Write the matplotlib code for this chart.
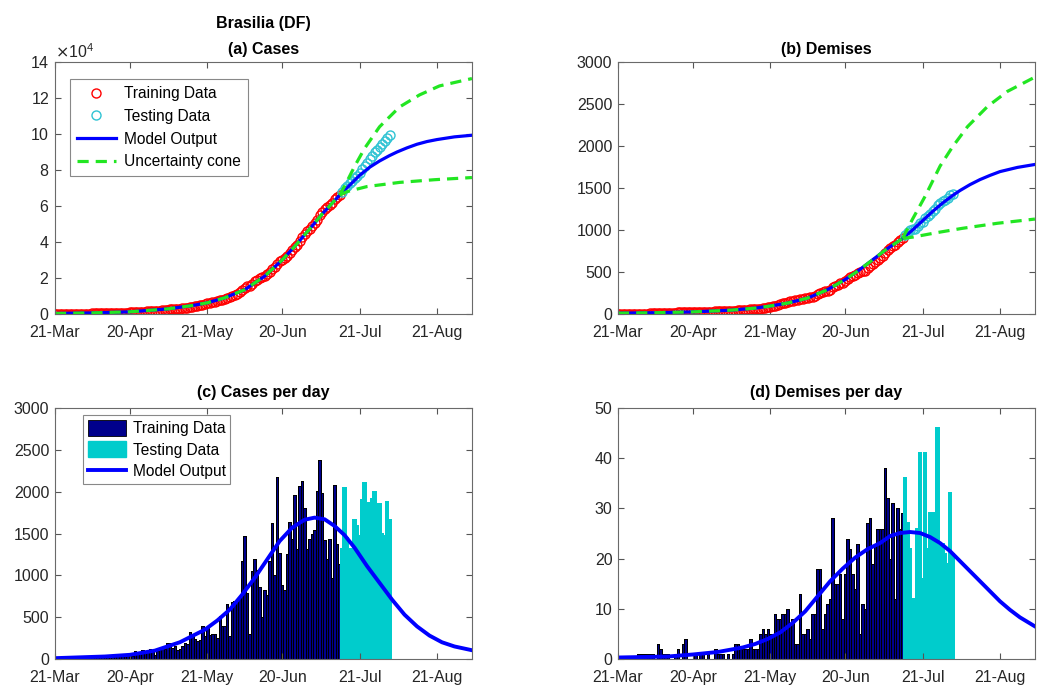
import numpy as np
import matplotlib
matplotlib.use('Agg')
import matplotlib.pyplot as plt
import matplotlib.dates as mdates
from matplotlib.patches import Patch
from matplotlib.lines import Line2D

plt.rcParams['font.family'] = ['Liberation Sans', 'DejaVu Sans']

# --- data (day 0 = 21-Mar-2020) ---
inicio = np.datetime64('2020-03-21')
fim = np.datetime64('2020-09-04')
marcas_x = ['2020-03-21', '2020-04-20', '2020-05-21', '2020-06-20', '2020-07-21', '2020-08-21']

casos_treino = [0, 0, 10, 20, 15, 25, 10, 30, 20, 15, 35, 20, 25, 15, 30, 20, 25, 30, 20, 35,
                25, 30, 40, 35, 30, 45, 40, 50, 35, 60,
                60, 40, 90, 80, 60, 110, 100, 90, 120, 80, 50, 90, 110, 130,
                120, 190, 190, 130, 150, 110, 120, 150, 190, 180, 320, 300, 240, 210, 230, 390,
                270, 370, 290, 300, 300, 250, 520, 400, 390, 660, 270, 680, 690, 720, 740,
                1170, 1470, 790, 300, 1050, 1200, 1060, 860, 500, 820,
                760, 1170, 1620, 1000, 2170, 1270, 880, 830, 1250, 1640,
                1430, 1960, 1320, 2070, 2130, 1810, 1320, 1430, 1500, 1540,
                2010, 2380, 1980, 1420, 1200, 1430, 970, 2080, 1380, 1130]
casos_teste = [1320, 2050, 1450, 1310, 1160, 1660, 1590, 1470, 1900, 2100,
               1650, 1860, 1910, 2000, 1380, 1850, 1500, 1470, 1880, 1660]

obitos_treino = [0, 0, 0, 0, 0, 0, 0, 0, 1, 1, 1, 1, 1, 1, 1,
                 0, 3, 2, 1, 1, 1, 0, 0, 1, 2, 0, 3, 4, 0, 0,
                 0, 1, 0, 1, 1, 0, 1, 0, 0, 2,
                 1, 1, 1, 0, 1, 0, 1, 3, 3, 2, 2, 2, 2, 4, 2,
                 2, 2, 5, 6, 5, 6, 5, 5, 9, 8, 8, 9, 9, 10, 7, 8, 3, 3,
                 13, 5, 5, 6, 4, 9, 9, 18, 18, 6, 9, 11, 12, 28,
                 15, 15, 17, 8, 17, 24, 22, 17, 14, 23, 5, 11, 10, 27, 28, 19, 23, 26, 26, 26, 38,
                 32, 20, 31, 12, 30, 26, 29]
obitos_teste = [36, 27, 22, 12, 10, 26, 41, 16, 41, 22, 29, 29, 27, 46, 23, 23, 21, 19, 33, 21]

# model output (cumulative)
dias_modelo = [0, 15, 30, 45, 55, 61, 68, 76, 84, 91, 96, 100, 104, 107, 111, 114,
               118, 122, 126, 130, 134, 137, 141, 145, 149, 153, 160, 167]
casos_modelo = [300, 600, 1200, 2800, 4700, 6200, 9000, 13500, 21000, 30000, 37500, 44000,
                50500, 55500, 61500, 66000, 71500, 77000, 81500, 85000, 88000, 90000,
                92300, 94300, 95800, 96900, 98400, 99300]
obitos_modelo = [10, 15, 25, 45, 70, 95, 130, 190, 290, 410, 510, 600, 690, 760, 840, 900,
                 1000, 1110, 1220, 1320, 1410, 1470, 1540, 1600, 1650, 1695, 1745, 1780]

# uncertainty cone
dias_sup_casos = [114, 116, 120, 124, 130, 138, 146, 154, 167]
sup_casos = [66000, 71000, 82000, 92000, 104000, 115000, 121700, 126700, 130800]
dias_inf_casos = [114, 117, 125, 138, 152, 167]
inf_casos = [66000, 68000, 70800, 73100, 74600, 75800]
dias_sup_obitos = [114, 118, 123, 129, 134, 140, 148, 156, 167]
sup_obitos = [900, 1130, 1400, 1760, 1990, 2230, 2470, 2650, 2820]
dias_inf_obitos = [114, 118, 128, 138, 152, 167]
inf_obitos = [900, 915, 970, 1020, 1080, 1130]

# model output (per day)
dias_diario_casos = [0, 10, 20, 30, 40, 50, 60, 65, 70, 75, 80, 85, 90, 95, 100, 104, 108,
                     112, 116, 120, 125, 130, 135, 140, 145, 150, 155, 160, 167]
diario_casos = [10, 20, 30, 50, 100, 200, 350, 460, 590, 770, 970, 1190, 1410, 1570, 1665,
                1690, 1670, 1590, 1480, 1330, 1110, 910, 710, 530, 390, 280, 200, 150, 105]
dias_diario_obitos = [0, 10, 20, 30, 40, 50, 55, 60, 65, 70, 75, 80, 85, 90, 95, 100, 105,
                      109, 113, 117, 121, 125, 129, 133, 137, 141, 145, 149, 153, 157, 161, 167]
diario_obitos = [0.3, 0.4, 0.5, 0.9, 1.4, 2.3, 3.0, 4.0, 5.3, 7.2, 9.5, 12.5, 15.5, 18.0,
                 20.2, 21.9, 23.1, 24.5, 25.1, 25.3, 25.1, 24.3, 23.1, 21.5, 19.5, 17.5,
                 15.5, 13.5, 11.5, 9.8, 8.3, 6.5]

AZUL = '#0000ff'
VERDE = '#22e622'
CIANO_PONTO = '#2fc3d3'
CIANO_BARRA = '#00cccc'
MARINHO = '#00008c'
CINZA = '#262626'


def para_datas(dias):
    return inicio + np.asarray(dias).astype('timedelta64[D]')


def estilo_eixo(ax, yticks):
    ax.set_xlim(inicio, fim)
    ax.set_xticks([np.datetime64(d) for d in marcas_x])
    ax.xaxis.set_major_formatter(mdates.DateFormatter('%d-%b'))
    ax.set_yticks(yticks)
    ax.set_ylim(yticks[0], yticks[-1])
    ax.tick_params(direction='in', top=True, right=True, length=4, width=0.8,
                   color='#555555', labelcolor=CINZA, labelsize=11.5, pad=4)
    ax.tick_params(axis='x', pad=8)
    for s in ax.spines.values():
        s.set_color('#6a6a6a')
        s.set_linewidth(0.8)


def painel_acumulado(ax, treino, teste, dias_m, modelo, ds, sup, di, inf, yticks):
    n = len(treino)
    acumulado = np.cumsum(treino + teste)
    d_treino = para_datas(np.arange(n))
    d_teste = para_datas(np.arange(n, n + len(teste)))
    ax.plot(d_treino, acumulado[:n], 'o', mfc='none', mec='r', ms=6.5, mew=1.0)
    ax.plot(d_teste, acumulado[n:], 'o', mfc='none', mec=CIANO_PONTO, ms=6.5, mew=1.0)
    ax.plot(para_datas(dias_m), modelo, color=AZUL, lw=2.3)
    dm = np.array(dias_m)
    mm = np.array(modelo)
    ax.plot(para_datas(dm[dm <= n - 1]), mm[dm <= n - 1], color=VERDE, lw=2.3, dashes=(3.5, 2.2))
    ax.plot(para_datas(ds), sup, color=VERDE, lw=2.3, dashes=(3.5, 2.2))
    ax.plot(para_datas(di), inf, color=VERDE, lw=2.3, dashes=(3.5, 2.2))
    estilo_eixo(ax, yticks)


def painel_diario(ax, treino, teste, dias_m, modelo, yticks):
    n = len(treino)
    ax.bar(para_datas(np.arange(n)), treino, width=1.0, color=MARINHO, edgecolor='black',
           lw=0.5, antialiased=False)
    ax.bar(para_datas(np.arange(n, n + len(teste))), teste, width=1.0, color=CIANO_BARRA,
           edgecolor=CIANO_BARRA, lw=0.3, antialiased=False)
    ax.plot(para_datas(dias_m), modelo, color=AZUL, lw=2.8)
    estilo_eixo(ax, yticks)


def main():
    fig = plt.figure(figsize=(10.37, 6.91), dpi=100)
    ax_a = fig.add_axes([0.0530, 0.5456, 0.4021, 0.3647])
    ax_b = fig.add_axes([0.5959, 0.5456, 0.4021, 0.3647])
    ax_c = fig.add_axes([0.0530, 0.0463, 0.4021, 0.3632])
    ax_d = fig.add_axes([0.5959, 0.0463, 0.4021, 0.3632])

    painel_acumulado(ax_a, casos_treino, casos_teste, dias_modelo, casos_modelo,
                     dias_sup_casos, sup_casos, dias_inf_casos, inf_casos,
                     np.arange(0, 140001, 20000))
    ax_a.ticklabel_format(axis='y', style='sci', scilimits=(4, 4), useMathText=True)
    ax_a.yaxis.get_offset_text().set_fontsize(11.5)
    ax_a.yaxis.get_offset_text().set_color(CINZA)
    ax_a.set_title('Brasilia (DF)\n(a) Cases', fontweight='bold', fontsize=11.5,
                   linespacing=1.9, pad=6)
    alcas = [Line2D([], [], ls='none', marker='o', mfc='none', mec='r', ms=6.5),
             Line2D([], [], ls='none', marker='o', mfc='none', mec=CIANO_PONTO, ms=6.5),
             Line2D([], [], color=AZUL, lw=2.3),
             Line2D([], [], color=VERDE, lw=2.3, dashes=(3.5, 2.2))]
    leg = ax_a.legend(alcas, ['Training Data', 'Testing Data', 'Model Output', 'Uncertainty cone'],
                      loc='upper left', bbox_to_anchor=(0.036, 0.9325), borderaxespad=0,
                      fontsize=11.2, frameon=True, fancybox=False, handlelength=2.5,
                      labelspacing=0.5, borderpad=0.45, handletextpad=0.5)
    leg.get_frame().set_edgecolor('#6a6a6a')
    leg.get_frame().set_linewidth(0.8)

    painel_acumulado(ax_b, obitos_treino, obitos_teste, dias_modelo, obitos_modelo,
                     dias_sup_obitos, sup_obitos, dias_inf_obitos, inf_obitos,
                     np.arange(0, 3001, 500))
    ax_b.set_title('(b) Demises', fontweight='bold', fontsize=11.5, pad=6)

    painel_diario(ax_c, casos_treino, casos_teste, dias_diario_casos, diario_casos,
                  np.arange(0, 3001, 500))
    ax_c.set_title('(c) Cases per day', fontweight='bold', fontsize=11.5, pad=8)
    alcas_c = [Patch(facecolor=MARINHO, edgecolor='black', lw=0.6),
               Patch(facecolor=CIANO_BARRA, edgecolor=CIANO_BARRA),
               Line2D([], [], color=AZUL, lw=2.8)]
    leg_c = ax_c.legend(alcas_c, ['Training Data', 'Testing Data', 'Model Output'],
                        loc='upper left', bbox_to_anchor=(0.067, 0.972), borderaxespad=0,
                        fontsize=11.2, frameon=True, fancybox=False, handlelength=2.5,
                        handleheight=1.2, labelspacing=0.35, borderpad=0.3, handletextpad=0.4)
    leg_c.get_frame().set_edgecolor('#6a6a6a')
    leg_c.get_frame().set_linewidth(0.8)

    painel_diario(ax_d, obitos_treino, obitos_teste, dias_diario_obitos, diario_obitos,
                  np.arange(0, 51, 10))
    ax_d.set_title('(d) Demises per day', fontweight='bold', fontsize=11.5, pad=8)

    fig.savefig('out.png', dpi=100)


if __name__ == "__main__":
    main()
